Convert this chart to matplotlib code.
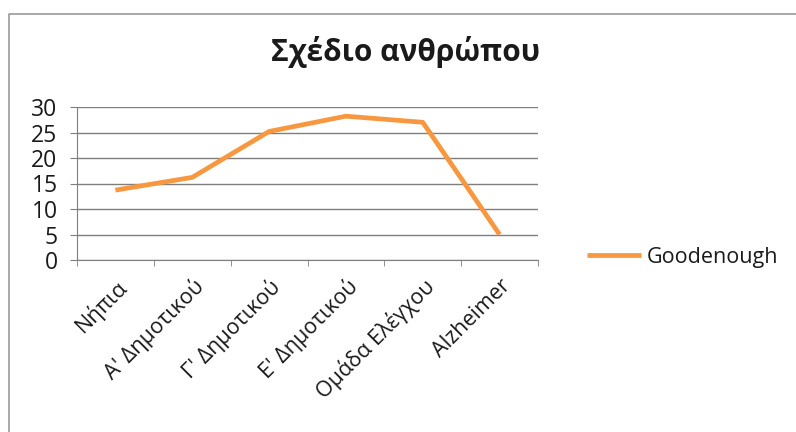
import numpy as np
import matplotlib.pyplot as plt
from matplotlib.lines import Line2D

plt.rcParams['font.family'] = ['Open Sans', 'DejaVu Sans']

# data
categories = ['Νήπια', "Α' Δημοτικού", "Γ' Δημοτικού", "Ε' Δημοτικού", 'Ομάδα Ελέγχου', 'Alzheimer']
goodenough = [13.7, 16.2, 25.2, 28.2, 27.0, 5.0]
yticks = [0, 5, 10, 15, 20, 25, 30]

fig = plt.figure(figsize=(7.96, 4.32), dpi=100)
ax = fig.add_axes([77/796, 1-260/432, (538-77)/796, (260-107)/432])

x = np.arange(len(categories))
ax.plot(x, goodenough, color='#F7973F', lw=3.4, solid_capstyle='butt', label='Goodenough')

ax.set_xlim(-0.5, len(categories) - 0.5)
ax.set_ylim(0, 30)
ax.set_yticks(yticks)
ax.yaxis.grid(True, color='#7f7f7f', lw=1)
ax.set_axisbelow(True)

# labels at category centres, tick marks on the boundaries
ax.set_xticks(x)
ax.set_xticklabels(categories, rotation=45, ha='right', va='top', rotation_mode='anchor')
ax.set_xticks(np.arange(-0.5, len(categories)), minor=True)
ax.tick_params(axis='x', which='major', length=0, pad=11, labelsize=15.5, colors='#1a1a1a')
ax.tick_params(axis='x', which='minor', length=4, color='#7f7f7f')
ax.tick_params(axis='y', length=5, color='#7f7f7f', labelsize=16.5, colors='#1a1a1a', pad=9)
for lab in ax.get_yticklabels():
    lab.set_color('#1a1a1a')

for s in ['top', 'right']:
    ax.spines[s].set_visible(False)
for s in ['left', 'bottom']:
    ax.spines[s].set_color('#7f7f7f')

fig.text(406/796, 1-52/432, 'Σχέδιο ανθρώπου', ha='center', va='center',
         fontsize=21.5, fontweight='bold', color='#1a1a1a')

ax.legend(loc='center left', bbox_to_anchor=(568/796, 1-257/432), bbox_transform=fig.transFigure,
          frameon=False, fontsize=15.5, handlelength=2.5, handletextpad=0.25, labelcolor='#1a1a1a')

# chart frame
fig.add_artist(Line2D([9/796, 9/796, 1], [0, 1-14/432, 1-14/432], transform=fig.transFigure,
                      color='#9a9a9a', lw=1.2))

fig.savefig('out.png', dpi=100)
